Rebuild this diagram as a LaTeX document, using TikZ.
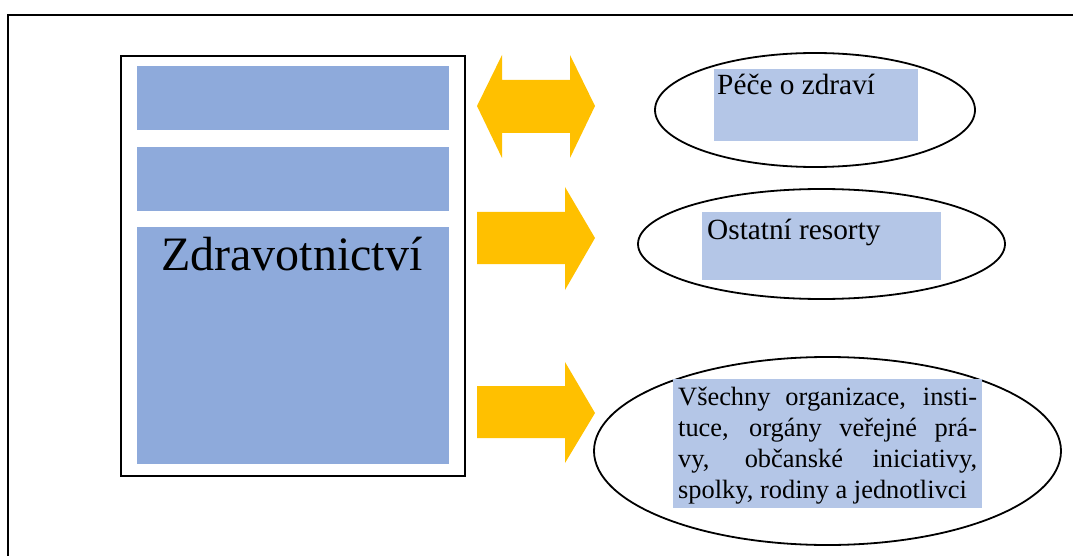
\documentclass[tikz,border=0pt]{standalone}
\usepackage{fontspec}
\setmainfont{Liberation Serif}
\usetikzlibrary{shapes.geometric}

\definecolor{blockblue}{HTML}{8EAADB}
\definecolor{labelblue}{HTML}{B4C6E7}
\definecolor{arrowyellow}{HTML}{FFC000}

\begin{document}
\begin{tikzpicture}[x=1pt,y=-1pt,
  bluebox/.style={rectangle,fill=blockblue,inner sep=0,anchor=north west},
  labelbox/.style={rectangle,fill=labelblue,inner sep=0,anchor=north west},
  oval/.style={ellipse,draw=black,line width=1.8pt,inner sep=0},
  word/.style={font=\fontsize{29.3}{34}\selectfont,inner sep=0}]
\useasboundingbox (0,0) rectangle (1073,556);
\draw[line width=2pt] (8,556) -- (8,15) -- (1073,15);

% left block
\node[rectangle,draw=black,line width=2pt,inner sep=0,anchor=north west,
  minimum width=344pt,minimum height=420pt] (sector) at (120,55) {};
\node[bluebox,minimum width=312pt,minimum height=64pt] (band1) at (137,66) {};
\node[bluebox,minimum width=312pt,minimum height=64pt] (band2) at (137,147) {};
\node[bluebox,minimum width=312pt,minimum height=237pt] (band3) at (137,227) {};
\node[inner sep=0,anchor=base,font=\fontsize{48}{55}\selectfont] (zdrav) at (292,270) {Zdravotnictví};

% arrows
\fill[arrowyellow] (477,106) -- (502,55) -- (502,80) -- (570,80) -- (570,55) -- (595,106)
  -- (570,158) -- (570,133) -- (502,133) -- (502,158) -- cycle;
\fill[arrowyellow] (477,212) -- (565,212) -- (565,187) -- (595,238) -- (565,290)
  -- (565,264) -- (477,264) -- cycle;
\fill[arrowyellow] (477,386) -- (565,386) -- (565,362) -- (595,413) -- (565,463)
  -- (565,438) -- (477,438) -- cycle;

% right side
\node[oval,minimum width=320pt,minimum height=114pt] (care) at (815,110) {};
\node[labelbox,minimum width=204pt,minimum height=72pt] (carebox) at (714,69) {};
\node[word,anchor=base west] (caretext) at (717,95) {Péče o zdraví};

\node[oval,minimum width=367pt,minimum height=110pt] (other) at (821.5,244) {};
\node[labelbox,minimum width=239pt,minimum height=68pt] (otherbox) at (702,212) {};
\node[word,anchor=base west] (othertext) at (707,240) {Ostatní resorty};

\node[oval,minimum width=467pt,minimum height=188pt] (all) at (827.5,451) {};
\node[labelbox,minimum width=309pt,minimum height=129pt] (allbox) at (673,379) {};
\node[word,font=\fontsize{26.4}{31}\selectfont,anchor=base west,text width=299pt,align=justify]
  (alltext) at (678,405)
  {Všechny organizace, insti-\linebreak tuce, orgány veřejné prá-\linebreak
   vy, občanské iniciativy,\linebreak spolky, rodiny a jednotlivci};
\end{tikzpicture}
\end{document}
